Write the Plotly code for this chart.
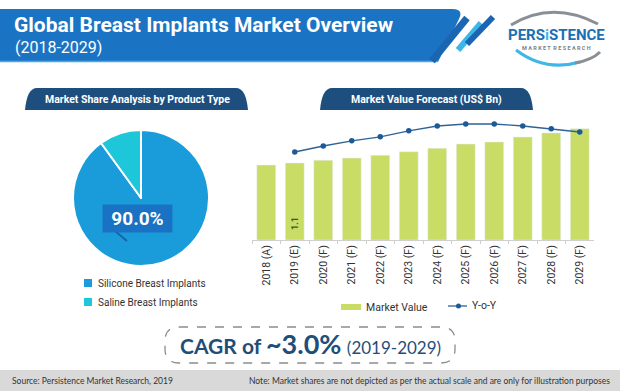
import plotly.graph_objects as go

# ---------------- data ----------------
years = ["2018 (A)", "2019 (E)", "2020 (F)", "2021 (F)", "2022 (F)", "2023 (F)",
         "2024 (F)", "2025 (F)", "2026 (F)", "2027 (F)", "2028 (F)", "2029 (F)"]
market_value = [1.07, 1.10, 1.14, 1.17, 1.21, 1.26, 1.31, 1.37, 1.40, 1.47, 1.53, 1.59]
yoy_years = years[1:]
yoy = [2.60, 2.75, 2.88, 2.98, 3.13, 3.25, 3.30, 3.30, 3.25, 3.18, 3.10]
pie_labels = ["Silicone Breast Implants", "Saline Breast Implants"]
pie_values = [90.0, 10.0]
cagr_text = "~3.0%"

W, H = 620, 391
def px(x): return x / W
def py(y): return 1 - y / H

NARROW = "Roboto, sans-serif"
CAL = "Lato, Open Sans, sans-serif"

BAR_C = "#c9dc66"
LINE_C = "#2f6296"
MARK_C = "#1d5a98"
NAVY = "#1d4e7e"
PIE_C = ["#1a9cda", "#1dc7d9"]

fig = go.Figure()

fig.add_trace(go.Pie(
    labels=pie_labels, values=pie_values, sort=False, direction="clockwise",
    rotation=0, textinfo="none", hoverinfo="label+percent",
    marker=dict(colors=PIE_C, line=dict(color="white", width=2)),
    domain=dict(x=[px(73), px(209)], y=[py(266), py(130)]),
    showlegend=False,
))

fig.add_trace(go.Bar(
    x=years, y=market_value, marker_color=BAR_C, width=0.66,
    showlegend=False, name="Market Value",
))
fig.add_trace(go.Scatter(
    x=yoy_years, y=yoy, yaxis="y2", mode="lines+markers",
    line=dict(color=LINE_C, width=1.3),
    marker=dict(color=MARK_C, size=5.5),
    showlegend=False, name="Y-o-Y",
))

shapes = []
ann = []

def P(x, y):
    return f"{px(x):.5f},{py(y):.5f}"

# header banner
shapes.append(dict(type="path", xref="paper", yref="paper",
    path=f"M {P(0,9)} L {P(452,9)} Q {P(464,9)} {P(459,19)} L {P(438,62)} L {P(0,62)} Z",
    fillcolor="#1b74c3", line=dict(width=0)))
shapes.append(dict(type="line", xref="paper", yref="paper",
    x0=px(0), y0=py(61.5), x1=px(438), y1=py(61.5), line=dict(color="#4fa6e6", width=1.5)))
# stripes
shapes.append(dict(type="line", xref="paper", yref="paper",
    x0=px(432), y0=py(61), x1=px(467), y1=py(18), line=dict(color="#1a66b3", width=7)))
shapes.append(dict(type="line", xref="paper", yref="paper",
    x0=px(458), y0=py(50), x1=px(481), y1=py(23), line=dict(color="#3fb6e8", width=6)))
shapes.append(dict(type="line", xref="paper", yref="paper",
    x0=px(467), y0=py(44), x1=px(493), y1=py(17), line=dict(color="#1a66b3", width=6)))

# logo swooshes
shapes.append(dict(type="path", xref="paper", yref="paper",
    path=f"M {P(511,25)} Q {P(552,0)} {P(598,24)}",
    line=dict(color="#8a8f96", width=3)))
shapes.append(dict(type="path", xref="paper", yref="paper",
    path=f"M {P(516,50)} Q {P(545,72)} {P(580,62)}",
    line=dict(color="#3fb6e8", width=3)))
shapes.append(dict(type="path", xref="paper", yref="paper",
    path=f"M {P(575,63)} Q {P(592,60)} {P(600,52)}",
    line=dict(color="#8a8f96", width=3)))

# subtitle pills
def pill(x0, x1, y0, y1):
    return (f"M {P(x0+12,y0)} L {P(x1-12,y0)} Q {P(x1-2,y0)} {P(x1,y1)} "
            f"L {P(x0,y1)} Q {P(x0+2,y0)} {P(x0+12,y0)} Z")
shapes.append(dict(type="path", xref="paper", yref="paper", path=pill(25, 248, 88, 110),
                   fillcolor=NAVY, line=dict(width=0)))
shapes.append(dict(type="path", xref="paper", yref="paper", path=pill(320, 533, 88, 110),
                   fillcolor=NAVY, line=dict(width=0)))

# pie label leader
shapes.append(dict(type="line", xref="paper", yref="paper",
    x0=px(115), y0=py(231), x1=px(127), y1=py(241), line=dict(color="#1664a8", width=2)))

# pie legend swatches
for i, yy in enumerate([283, 302]):
    shapes.append(dict(type="rect", xref="paper", yref="paper",
        x0=px(84), x1=px(92), y0=py(yy+4), y1=py(yy-4),
        fillcolor=PIE_C[i], line=dict(width=0)))
    ann.append(dict(x=px(96), y=py(yy), xref="paper", yref="paper", xanchor="left",
        yanchor="middle", showarrow=False, text=pie_labels[i],
        font=dict(family=NARROW, size=10, color="#333333")))

# bar legend
shapes.append(dict(type="rect", xref="paper", yref="paper",
    x0=px(341), x1=px(361), y0=py(310), y1=py(304), fillcolor=BAR_C, line=dict(width=0)))
ann.append(dict(x=px(364), y=py(307), xref="paper", yref="paper", xanchor="left",
    yanchor="middle", showarrow=False, text="Market Value",
    font=dict(family=NARROW, size=10.5, color="#333333")))
shapes.append(dict(type="line", xref="paper", yref="paper",
    x0=px(448), x1=px(467), y0=py(306), y1=py(306), line=dict(color=LINE_C, width=1.3)))
shapes.append(dict(type="circle", xref="paper", yref="paper",
    x0=px(456), x1=px(461), y0=py(308.5), y1=py(303.5), fillcolor=MARK_C, line=dict(width=0)))
ann.append(dict(x=px(470), y=py(305), xref="paper", yref="paper", xanchor="left",
    yanchor="middle", showarrow=False, text="Y-o-Y",
    font=dict(family=NARROW, size=10.5, color="#333333")))

# CAGR dashed rounded box
x0, x1, y0, y1, r = 165, 455, 327, 363, 14
shapes.append(dict(type="path", xref="paper", yref="paper",
    path=(f"M {P(x0+r,y0)} L {P(x1-r,y0)} Q {P(x1,y0)} {P(x1,y0+r)} L {P(x1,y1-r)} "
          f"Q {P(x1,y1)} {P(x1-r,y1)} L {P(x0+r,y1)} Q {P(x0,y1)} {P(x0,y1-r)} "
          f"L {P(x0,y0+r)} Q {P(x0,y0)} {P(x0+r,y0)} Z"),
    line=dict(color="#8c8c8c", width=1.3, dash="dash"), fillcolor="rgba(0,0,0,0)"))

# footer
shapes.append(dict(type="rect", xref="paper", yref="paper",
    x0=0, x1=1, y0=0, y1=py(370), fillcolor="#d9d9d9", line=dict(width=0)))

# ---- texts ----
ann.append(dict(x=px(12), y=py(25), xref="paper", yref="paper", xanchor="left", yanchor="middle",
    showarrow=False, text="<b>Global Breast Implants Market Overview</b>",
    font=dict(family=NARROW, size=21, color="white")))
ann.append(dict(x=px(13), y=py(47.5), xref="paper", yref="paper", xanchor="left", yanchor="middle",
    showarrow=False, text="(2018-2029)",
    font=dict(family=NARROW, size=16, color="white")))
# logo text
ann.append(dict(x=px(556), y=py(35), xref="paper", yref="paper", xanchor="center", yanchor="middle",
    showarrow=False, text="<b>PERS<span style='color:#3fb6e8'>i</span>STENCE</b>",
    font=dict(family=NARROW, size=15, color="#1a6fb5")))
ann.append(dict(x=px(556), y=py(47.5), xref="paper", yref="paper", xanchor="center", yanchor="middle",
    showarrow=False, text="<b>M A R K E T  R E S E A R C H</b>",
    font=dict(family=NARROW, size=5.5, color="#7a7f86")))

ann.append(dict(x=px(137), y=py(99), xref="paper", yref="paper", xanchor="center", yanchor="middle",
    showarrow=False, text="<b>Market Share Analysis by Product Type</b>",
    font=dict(family=NARROW, size=10.5, color="white")))
ann.append(dict(x=px(426), y=py(99), xref="paper", yref="paper", xanchor="center", yanchor="middle",
    showarrow=False, text="<b>Market Value Forecast (US$ Bn)</b>",
    font=dict(family=NARROW, size=10.5, color="white")))

ann.append(dict(x=px(137.5), y=py(218.5), xref="paper", yref="paper", xanchor="center", yanchor="middle",
    showarrow=False, text=f"<b>{pie_values[0]:.1f}%</b>", width=69, height=27,
    bgcolor="#1a72c4", borderpad=0,
    font=dict(family="Roboto, sans-serif", size=19, color="white")))

ann.append(dict(x=years[1], y=0.24, xref="x", yref="y", xanchor="center", yanchor="middle",
    showarrow=False, text=f"<b>{market_value[1]:.1f}</b>", textangle=-90,
    font=dict(family=NARROW, size=9, color="#3d5a22")))

ann.append(dict(x=px(310), y=py(343), xref="paper", yref="paper", xanchor="center", yanchor="middle",
    showarrow=False,
    text=(f"<b>CAGR of <span style='font-size:27px'>{cagr_text}</span></b> "
          "<span style='font-size:17px'>(2019-2029)</span>"),
    font=dict(family=CAL, size=21, color="#1f4e79")))

ann.append(dict(x=px(10), y=py(380.5), xref="paper", yref="paper", xanchor="left", yanchor="middle",
    showarrow=False, text="Source: Persistence Market Research, 2019",
    font=dict(family=CAL, size=8.5, color="#333333")))
ann.append(dict(x=px(612), y=py(380.5), xref="paper", yref="paper", xanchor="right", yanchor="middle",
    showarrow=False,
    text="Note: Market shares are not depicted as per the actual scale and are only for illustration purposes",
    font=dict(family=CAL, size=8.5, color="#333333")))

fig.update_layout(
    width=W, height=H, margin=dict(l=0, r=0, t=0, b=0),
    paper_bgcolor="white", plot_bgcolor="white",
    shapes=shapes, annotations=ann, showlegend=False, bargap=0.34,
    xaxis=dict(domain=[px(252), px(594)], type="category", range=[-0.5, 11.5],
               showgrid=False, showline=True, linecolor="#cfcfcf", linewidth=1,
               ticks="outside", ticklen=3, tickcolor="#cfcfcf", tickson="boundaries",
               tickangle=-90, tickfont=dict(family=NARROW, size=10.5, color="#333333"),
               fixedrange=True),
    yaxis=dict(domain=[py(240), py(118)], range=[0, 122/70], showgrid=False,
               showticklabels=False, zeroline=False, showline=False, fixedrange=True),
    yaxis2=dict(overlaying="y", range=[0.4, 3.45], showgrid=False,
                showticklabels=False, zeroline=False, showline=False, fixedrange=True),
)

fig.write_html("out.html", config={"displayModeBar": False},
               post_script="document.body.style.margin='0px';")
